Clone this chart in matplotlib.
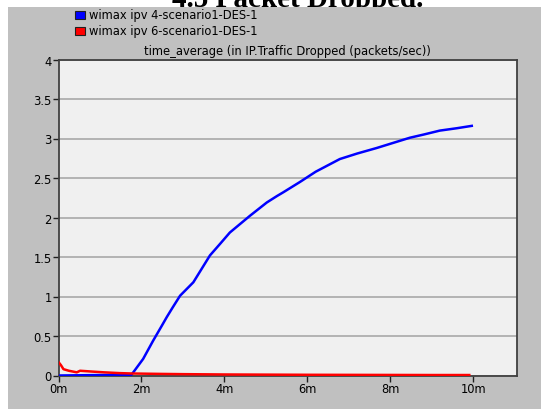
import matplotlib.pyplot as plt
from matplotlib.patches import Rectangle

# series (minutes, packets/sec)
ipv4_t = [0.0, 1.76, 2.04, 2.28, 2.49, 2.61, 2.75, 2.93, 3.25, 3.45, 3.65,
          3.90, 4.13, 4.61, 5.02, 5.26, 5.42, 5.82, 6.20, 6.78, 7.20, 7.67,
          8.10, 8.47, 8.80, 9.19, 9.60, 9.96]
ipv4_v = [0.0, 0.01, 0.21, 0.44, 0.63, 0.74, 0.86, 1.01, 1.18, 1.35, 1.52,
          1.67, 1.81, 2.02, 2.19, 2.27, 2.32, 2.45, 2.58, 2.74, 2.81, 2.88,
          2.95, 3.01, 3.05, 3.10, 3.13, 3.16]

ipv6_t = [0.0, 0.06, 0.12, 0.25, 0.44, 0.52, 0.8, 1.1, 1.48, 1.8, 2.5,
          3.0, 4.0, 5.0, 6.0, 7.0, 8.0, 9.0, 9.9]
ipv6_v = [0.17, 0.13, 0.08, 0.06, 0.04, 0.06, 0.05, 0.04, 0.03, 0.025, 0.02,
          0.017, 0.013, 0.011, 0.009, 0.008, 0.007, 0.006, 0.006]

labels = ["wimax ipv 4-scenario1-DES-1", "wimax ipv 6-scenario1-DES-1"]
colors = ["#0000ff", "#ff0000"]
xticks = [0, 2, 4, 6, 8, 10]
xticklabels = ["0m", "2m", "4m", "6m", "8m", "10m"]
yticks = [0, 0.5, 1, 1.5, 2, 2.5, 3, 3.5, 4]
yticklabels = ["0", "0.5", "1", "1.5", "2", "2.5", "3", "3.5", "4"]

plt.rcParams["font.family"] = ["DejaVu Sans"]
FS = 8.3

W, H = 541, 410
fig = plt.figure(figsize=(W / 100, H / 100), dpi=100, facecolor="white")

# gray OPNET panel, drawn over the cut-off page heading
fig.patches.append(Rectangle((8 / W, 0), 1, 1 - 8 / H, transform=fig.transFigure,
                             facecolor="#c0c0c0", edgecolor="none", zorder=-10))

# page heading, only its lower part shows above the panel
fig.text(298 / W, 1 - 7 / H, "4.5 Packet Dropped.", ha="center", va="baseline",
         fontsize=21, fontweight="bold", family="Liberation Serif", zorder=-20)

ax = fig.add_axes([58.5 / W, 1 - 376.5 / H, (517 - 58.5) / W, (376.5 - 60.5) / H])
ax.set_facecolor("#f0f0f0")

ax.plot(ipv4_t, ipv4_v, color=colors[0], lw=1.8, zorder=3)
ax.plot(ipv6_t, ipv6_v, color=colors[1], lw=1.8, zorder=4)

ax.set_xlim(0, 11.05)
ax.set_ylim(0, 4)
ax.set_xticks(xticks)
ax.set_xticklabels(xticklabels)
ax.set_yticks(yticks)
ax.set_yticklabels(yticklabels)
ax.tick_params(axis="both", labelsize=FS, length=4, width=1, color="#202020",
               direction="out", pad=1)
ax.yaxis.grid(True, color="#a8a8a8", lw=1.2)
ax.set_axisbelow(True)
for s in ax.spines.values():
    s.set_color("#404040")
    s.set_linewidth(1.3)

ax.set_title("time_average (in IP.Traffic Dropped (packets/sec))", fontsize=FS, pad=4)

# legend squares above the plot
for i, (lab, c) in enumerate(zip(labels, colors)):
    y = 16 + i * 16
    fig.patches.append(Rectangle((75 / W, 1 - (y + 4) / H), 10 / W, 8 / H,
                                 transform=fig.transFigure, facecolor=c,
                                 edgecolor="#202020", lw=0.8, zorder=2))
    fig.text(89 / W, 1 - y / H, lab, ha="left", va="center", fontsize=FS)

fig.savefig("out.png", dpi=100, facecolor=fig.get_facecolor())
